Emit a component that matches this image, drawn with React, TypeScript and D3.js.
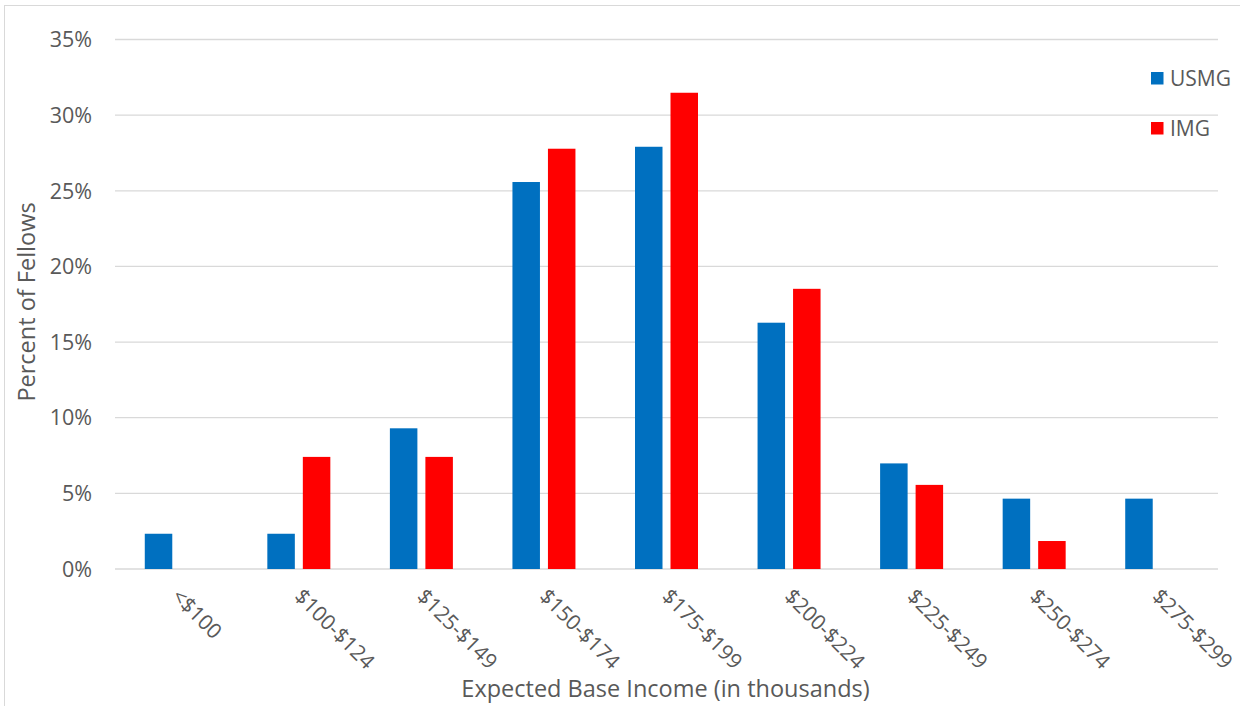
import React from "react";
import * as d3 from "d3";

// Income brackets (thousands of dollars)
const categories = [
  "<$100",
  "$100-$124",
  "$125-$149",
  "$150-$174",
  "$175-$199",
  "$200-$224",
  "$225-$249",
  "$250-$274",
  "$275-$299",
];

// Percent of fellows in each bracket
const usmgValues = [2.33, 2.33, 9.3, 25.58, 27.91, 16.28, 6.98, 4.65, 4.65];
const imgValues = [0, 7.41, 7.41, 27.78, 31.48, 18.52, 5.56, 1.85, 0];

const seriesNames = ["USMG", "IMG"];
const seriesColors = ["#0070C0", "#FF0000"];
const yTicks = [0, 5, 10, 15, 20, 25, 30, 35];

const W = 1240;
const H = 706;
const FONT = "'Open Sans', 'Noto Sans', sans-serif";
const TEXT = "#595959";

export default function App() {
  const left = 115;
  const right = 1218;
  const top = 39.5;
  const bottom = 569;

  const x = d3.scaleBand<string>().domain(categories).range([left, right]).padding(0);
  const y = d3.scaleLinear().domain([0, 35]).range([bottom, top]);

  const barW = 27.5;
  const gap = 8;
  const inner = d3
    .scaleOrdinal<string, number>()
    .domain(seriesNames)
    .range([-(barW + gap / 2), gap / 2]);

  const series = [usmgValues, imgValues];

  return (
    <svg
      width={W}
      height={H}
      style={{ position: "absolute", left: 0, top: 0, background: "#fff" }}
      fontFamily={FONT}
    >
      <rect x={4.5} y={5.5} width={W + 10} height={H + 10} fill="#fff" stroke="#D9D9D9" strokeWidth={1} />

      {/* gridlines and y tick labels */}
      {yTicks.map((t) => (
        <g key={t}>
          <line x1={left} x2={right} y1={y(t)} y2={y(t)} stroke="#D9D9D9" strokeWidth={1.3} />
          <text x={92} y={y(t)} dy="0.36em" textAnchor="end" fontSize={21.5} fill={TEXT}>
            {t}%
          </text>
        </g>
      ))}

      {/* bars */}
      {series.map((vals, si) =>
        vals.map((v, i) =>
          v > 0 ? (
            <rect
              key={`${si}-${i}`}
              x={(x(categories[i]) as number) + x.bandwidth() / 2 + inner(seriesNames[si])}
              y={y(v)}
              width={barW}
              height={y(0) - y(v)}
              fill={seriesColors[si]}
            />
          ) : null
        )
      )}

      {/* category labels */}
      {categories.map((c) => {
        const cx = (x(c) as number) + x.bandwidth() / 2;
        return (
          <text
            key={c}
            transform={`translate(${cx + 5},${587}) rotate(45)`}
            textAnchor="start"
            fontSize={21}
            fill={TEXT}
            dy="0.72em"
          >
            {c}
          </text>
        );
      })}

      {/* axis titles */}
      <text x={(left + right) / 2 - 1} y={697} textAnchor="middle" fontSize={23.5} fill={TEXT}>
        Expected Base Income (in thousands)
      </text>
      <text
        transform={`translate(35,${302}) rotate(-90)`}
        textAnchor="middle"
        fontSize={23.5}
        fill={TEXT}
      >
        Percent of Fellows
      </text>

      {/* legend */}
      {seriesNames.map((n, i) => (
        <g key={n} transform={`translate(1151,${72 + i * 50})`}>
          <rect x={0} y={0} width={12.5} height={12.5} fill={seriesColors[i]} />
          <text x={19} y={13.5} fontSize={21} fill={TEXT}>
            {n}
          </text>
        </g>
      ))}
    </svg>
  );
}
